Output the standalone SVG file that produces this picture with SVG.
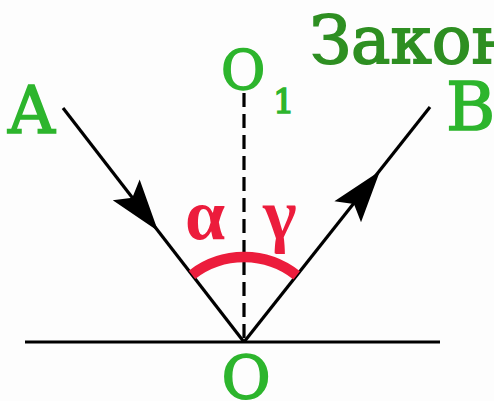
<svg xmlns="http://www.w3.org/2000/svg" width="494" height="401" viewBox="0 0 494 401">
<defs>
<style>
.ray{stroke:#000;stroke-width:3.2;fill:none}
.lbl{font-family:"DejaVu Serif","Liberation Serif",serif;fill:#2db52d;stroke:#2db52d;stroke-width:1.6}
.ttl{font-family:"DejaVu Serif","Liberation Serif",serif;fill:#2e8f22;stroke:#2e8f22;stroke-width:1.8}
.ang{font-family:"Liberation Serif","DejaVu Serif",serif;fill:#ec1c3c;font-weight:bold}
</style>
<path id="ah" d="M0,0 L-52,-17 L-42,0 L-52,17 Z" fill="#000"/>
</defs>
<rect width="494" height="401" fill="#fdfdfd"/>
<g id="connectors">
<line class="ray" x1="25" y1="342" x2="440" y2="342"/>
<line class="ray" x1="244" y1="93" x2="244" y2="342" stroke-dasharray="14,7"/>
<line class="ray" x1="63" y1="108" x2="244" y2="342"/>
<line class="ray" x1="244" y1="342" x2="430" y2="107"/>
<use href="#ah" transform="translate(158,231) rotate(52.3)"/>
<use href="#ah" transform="translate(380,171) rotate(-51.6)"/>
<path d="M192,274.8 A85,85 0 0 1 296.7,275.4" stroke="#ec1c3c" stroke-width="10.5" fill="none"/>
</g>
<g id="title"><text class="ttl" x="310" y="63" font-size="66">Закон</text></g>
<g id="A"><text class="lbl" x="8" y="133" font-size="65">A</text></g>
<g id="B"><text class="lbl" x="446" y="130" font-size="67">B</text></g>
<g id="O1"><text class="lbl" x="221" y="89" font-size="54">O</text><text class="lbl" x="273" y="113" font-size="34">1</text></g>
<g id="O"><text class="lbl" x="246" y="399" font-size="60" text-anchor="middle">O</text></g>
<g id="alpha"><text class="ang" x="185" y="239" font-size="72">α</text></g>
<g id="gamma"><text class="ang" x="263" y="239" font-size="72">γ</text></g>
</svg>
